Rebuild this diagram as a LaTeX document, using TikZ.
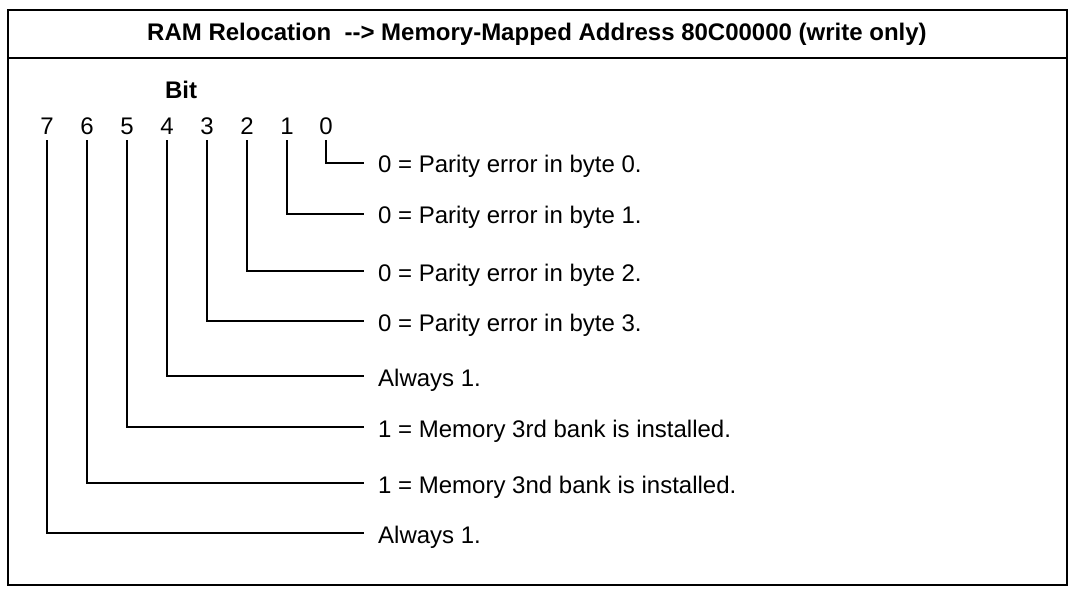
\documentclass[tikz,border=0pt]{standalone}
\usepackage{fontspec}
\setmainfont{Liberation Sans}
\begin{document}
\begin{tikzpicture}[x=1pt,y=-1pt,
  frame/.style={line width=2pt},
  conn/.style={line width=1.8pt},
  digit/.style={font=\fontsize{24}{28}\selectfont, inner xsep=0pt, inner ysep=5.4pt, text height=17.2pt, text depth=0pt, anchor=center},
  lbl/.style={font=\fontsize{24}{28}\selectfont, anchor=west, inner xsep=14pt, inner ysep=0pt, text height=20pt, text depth=0pt},
  ttl/.style={font=\bfseries\fontsize{24}{28}\selectfont, inner sep=0pt}]
\useasboundingbox (0,0) rectangle (1071,596);
\draw[frame] (8,10) rectangle (1067,585);
\draw[frame] (8,58) -- (1067,58);
\node[ttl] (title) at (537,34) {RAM Relocation\ \ -{}-{}> Memory-Mapped Address 80C00000 (write only)};
\node[ttl] (bit) at (181,90) {Bit};
\foreach \i/\x/\y/\t in {
  7/47/533/{Always 1.},
  6/87/483/{1 = Memory 3nd bank is installed.},
  5/127/427/{1 = Memory 3rd bank is installed.},
  4/167/376/{Always 1.},
  3/207/321/{0 = Parity error in byte 3.},
  2/247/271/{0 = Parity error in byte 2.},
  1/287/214/{0 = Parity error in byte 1.},
  0/326/163/{0 = Parity error in byte 0.}}{
  \node[digit] (d\i) at (\x,126) {\i};
  \node[lbl] (l\i) at (364,\y) {\t};
  \draw[conn] (d\i.south) |- (l\i.west);
}
\end{tikzpicture}
\end{document}
